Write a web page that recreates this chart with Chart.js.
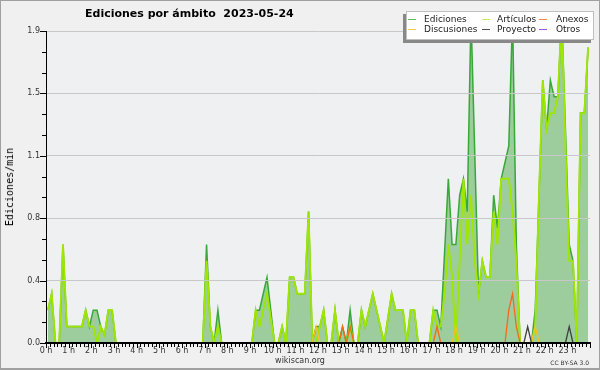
<!DOCTYPE html>
<html>
<head>
<meta charset="utf-8">
<script src="https://cdn.jsdelivr.net/npm/chart.js@4.4.0/dist/chart.umd.min.js"></script>
<style>
  html, body { margin:0; padding:0; background:#f0f0f0; }
  #wrap { position:relative; width:600px; height:370px; overflow:hidden; background:#f0f0f0; font-family:'DejaVu Sans', sans-serif; }
  #c { position:absolute; left:0; top:0; }
  .t { position:absolute; white-space:nowrap; color:#000; }
  .lg { position:absolute; font-size:9px; line-height:10px; color:#222; white-space:nowrap; }
  .ls { position:absolute; height:1px; }
  #frame { position:absolute; left:0; top:0; width:600px; height:370px; box-sizing:border-box; border:1px solid #a0a0a0; border-bottom-width:2px; pointer-events:none; }
</style>
</head>
<body>
<div id="wrap">
  <canvas id="c" width="600" height="370"></canvas>
  <div class="t" style="left:85px; top:8px; font-weight:bold; font-size:11px; line-height:12px;">Ediciones por ámbito&nbsp;&nbsp;2023-05-24</div>
  <div class="t" style="left:9.5px; top:187px; font-family:'DejaVu Sans Mono', monospace; font-size:10px; line-height:10px; transform:translate(-50%,-50%) rotate(-90deg);">Ediciones/min</div>
  <div id="legendBox" style="position:absolute; left:406px; top:11px; width:186px; height:27px; background:#fff; border:1px solid #c0c0c0; box-shadow:-3px 3px 0 #888;"></div>
  <div id="legendItems"></div>
  <div class="t" style="left:300px; top:356px; font-size:8px; line-height:10px; color:#333; transform:translateX(-50%);">wikiscan.org</div>
  <div class="t" style="right:11px; top:359px; font-size:6px; line-height:7px; color:#333;">CC BY-SA 3.0</div>
  <div id="frame"></div>
</div>
<script>
// ---- Data (10-minute slots, edits per minute) ----
const ediciones = [
  0.2,0.3,0,0,0.6,0.1,0.1,0.1,0.1,0.1,
  0.2,0.1,0.2,0.2,0.1,0.05,0.2,0.2,0,0,
  0,0,0,0,0,0,0,0,0,0,
  0,0,0,0,0,0,0,0,0,0,
  0,0,0.6,0.1,0,0.2,0,0,0,0,
  0,0,0,0,0,0.2,0.2,0.3,0.4,0.2,
  0,0,0.1,0,0.4,0.4,0.3,0.3,0.3,0.8,
  0,0.1,0.1,0.2,0,0,0.2,0,0.1,0,
  0.2,0,0,0.2,0.1,0.2,0.3,0.2,0.1,0,
  0.15,0.3,0.2,0.2,0.2,0,0.2,0.2,0,0,
  0,0,0.2,0.2,0.1,0.55,1.0,0.6,0.6,0.9,
  1.0,0.8,2.0,1.15,0.3,0.5,0.4,0.4,0.9,0.7,
  1.0,1.1,1.2,2.0,0.6,0,0,0,0,0.2,
  0.9,1.6,1.3,1.6,1.5,1.5,2.0,1.3,0.6,0.5,
  0,1.4,1.4,1.8
];
const articulos = [
  0.2,0.3,0,0,0.6,0.1,0.1,0.1,0.1,0.1,
  0.2,0.1,0.1,0,0.1,0.05,0.2,0.2,0,0,
  0,0,0,0,0,0,0,0,0,0,
  0,0,0,0,0,0,0,0,0,0,
  0,0,0.5,0.1,0,0.1,0,0,0,0,
  0,0,0,0,0,0.2,0.1,0.2,0.3,0.15,
  0,0,0.1,0,0.4,0.4,0.3,0.3,0.3,0.8,
  0,0,0.1,0.2,0,0,0.2,0,0,0,
  0.1,0,0,0.2,0.1,0.2,0.3,0.2,0.1,0,
  0.15,0.3,0.2,0.2,0.2,0,0.2,0.2,0,0,
  0,0,0.2,0.1,0.1,0.3,0.6,0.4,0,0.5,
  1.0,0.6,0.9,0.5,0.3,0.5,0.4,0.4,0.8,0.6,
  1.0,1.0,1.0,0.8,0.5,0,0,0,0,0.1,
  0.9,1.6,1.3,1.4,1.4,1.5,2.0,1.2,0.5,0.5,
  0,1.4,1.4,1.8
];
// sparse series: [slot index, value]; all other slots are 0
const anexosPts      = [[78,0.1],[80,0.1],[103,0.1],[122,0.2],[123,0.3],[124,0.1]];
const discusionesPts = [[71,0.1],[108,0.1],[129,0.1]];
const proyectoPts    = [[127,0.1],[138,0.1]];
const otrosPts       = [];

const yTickValues = [0, 0.38, 0.76, 1.14, 1.52, 1.9];
const yTickLabels = ['0.0','0.4','0.8','1.1','1.5','1.9'];
const xTickValues = [0,1,2,3,4,5,6,7,8,9,10,11,12,13,14,15,16,17,18,19,20,21,22,23];
const xTickLabels = ['0 h','1 h','2 h','3 h','4 h','5 h','6 h','7 h','8 h','9 h','10 h','11 h',
                     '12 h','13 h','14 h','15 h','16 h','17 h','18 h','19 h','20 h','21 h','22 h','23 h'];

// ---- Build tables ----
const SLOTS = ediciones.length;
const slotHour = Array.from({length: SLOTS}, (_, i) => (i + 0.5) / 6); // centre of each 10-min slot
function expand(pts) { const a = new Array(SLOTS).fill(0); pts.forEach(([i, v]) => { a[i] = v; }); return a; }
function toXY(arr) { return arr.map((v, i) => ({x: slotHour[i], y: v})); }

const series = [
  {name:'Ediciones',   color:'#38a838', legend:'#5cc05c', data: ediciones,              width:1.5, order:6, fill:true},
  {name:'Artículos',   color:'#9fe600', legend:'#c4ee55', data: articulos,              width:1.9, order:5},
  {name:'Discusiones', color:'#f5c21b', legend:'#f5cc40', data: expand(discusionesPts), width:1.3, order:4},
  {name:'Proyecto',    color:'#404040', legend:'#505050', data: expand(proyectoPts),    width:1.3, order:3},
  {name:'Anexos',      color:'#f26a1b', legend:'#f0844a', data: expand(anexosPts),      width:1.3, order:2},
  {name:'Otros',       color:'#9b45e8', legend:'#9b55ee', data: expand(otrosPts),       width:1.3, order:1},
];

// ---- Legend (HTML) ----
const legendLayout = [
  {name:'Ediciones',   lx:408, tx:424, cy:19},
  {name:'Artículos',   lx:482, tx:497, cy:19},
  {name:'Anexos',      lx:539, tx:556, cy:19},
  {name:'Discusiones', lx:408, tx:424, cy:29},
  {name:'Proyecto',    lx:482, tx:497, cy:29},
  {name:'Otros',       lx:539, tx:556, cy:29},
];
const li = document.getElementById('legendItems');
legendLayout.forEach(L => {
  const s = series.find(d => d.name === L.name);
  const line = document.createElement('div');
  line.className = 'ls';
  line.style.left = L.lx + 'px'; line.style.top = (L.cy) + 'px'; line.style.width = '8px';
  line.style.background = s.legend;
  li.appendChild(line);
  const tx = document.createElement('div');
  tx.className = 'lg';
  tx.style.left = L.tx + 'px'; tx.style.top = (L.cy - 5) + 'px';
  tx.textContent = L.name;
  li.appendChild(tx);
});

// ---- Plugins ----
const bgPlugin = {
  id: 'bg',
  beforeDraw(chart) {
    const {ctx, chartArea: a} = chart;
    ctx.save();
    ctx.fillStyle = '#f0f0f0';
    ctx.fillRect(0, 0, chart.width, chart.height);
    ctx.fillStyle = '#eef0f2';
    ctx.fillRect(a.left, a.top, a.right - a.left, a.bottom - a.top);
    ctx.restore();
  }
};
const minorTicks = {
  id: 'minorTicks',
  afterDraw(chart) {
    const {ctx, chartArea: a} = chart;
    const xs = chart.scales.x, ys = chart.scales.y;
    ctx.save();
    ctx.strokeStyle = '#000';
    ctx.lineWidth = 1;
    ctx.beginPath();
    for (let k = 0; k <= 144; k++) {
      const px = Math.round(xs.getPixelForValue(k / 6)) + 0.5;
      const len = (k % 6 === 0) ? 4 : 3;
      ctx.moveTo(px, a.bottom + 1);
      ctx.lineTo(px, a.bottom + 1 + len);
    }
    const step = yTickValues[1] / 3;
    for (let k = 0; k <= 15; k++) {
      const py = Math.round(ys.getPixelForValue(k * step)) + 0.5;
      const len = (k % 3 === 0) ? 6 : 4;
      ctx.moveTo(a.left - len, py);
      ctx.lineTo(a.left, py);
    }
    ctx.stroke();
    ctx.restore();
  }
};

Chart.defaults.font.family = "'DejaVu Sans', sans-serif";

new Chart(document.getElementById('c'), {
  type: 'line',
  data: {
    datasets: series.map(s => ({
      label: s.name,
      data: toXY(s.data),
      borderColor: s.color,
      borderWidth: s.width,
      backgroundColor: s.fill ? 'rgb(157,204,157)' : 'transparent',
      fill: s.fill ? 'origin' : false,
      pointRadius: 0,
      tension: 0,
      order: s.order,
    }))
  },
  options: {
    responsive: false,
    animation: false,
    devicePixelRatio: 1,
    layout: { padding: { left: 0, right: 10, top: 31, bottom: 0 } },
    plugins: { legend: { display: false }, title: { display: false }, tooltip: { enabled: false } },
    scales: {
      x: {
        type: 'linear', min: 0, max: 24,
        afterBuildTicks: s => { s.ticks = xTickValues.map(v => ({value: v})); },
        afterFit: s => { s.height = 27; },
        ticks: { callback: (v, i) => xTickLabels[i], maxRotation: 0, autoSkip: false, padding: 3,
                 font: { size: 8 }, color: '#333' },
        grid: { display: false, drawTicks: false },
        border: { display: true, color: '#000', width: 2, z: 2 }
      },
      y: {
        min: 0, max: 1.9,
        afterBuildTicks: s => { s.ticks = yTickValues.map(v => ({value: v})); },
        afterFit: s => { s.width = 46; },
        ticks: { callback: (v, i) => yTickLabels[i], padding: 6, font: { size: 8 }, color: '#333' },
        grid: { color: '#c8c8c8', lineWidth: 1, drawTicks: false, z: 1 },
        border: { display: true, color: '#000', width: 1, z: 2 }
      }
    }
  },
  plugins: [bgPlugin, minorTicks]
});
</script>
</body>
</html>
